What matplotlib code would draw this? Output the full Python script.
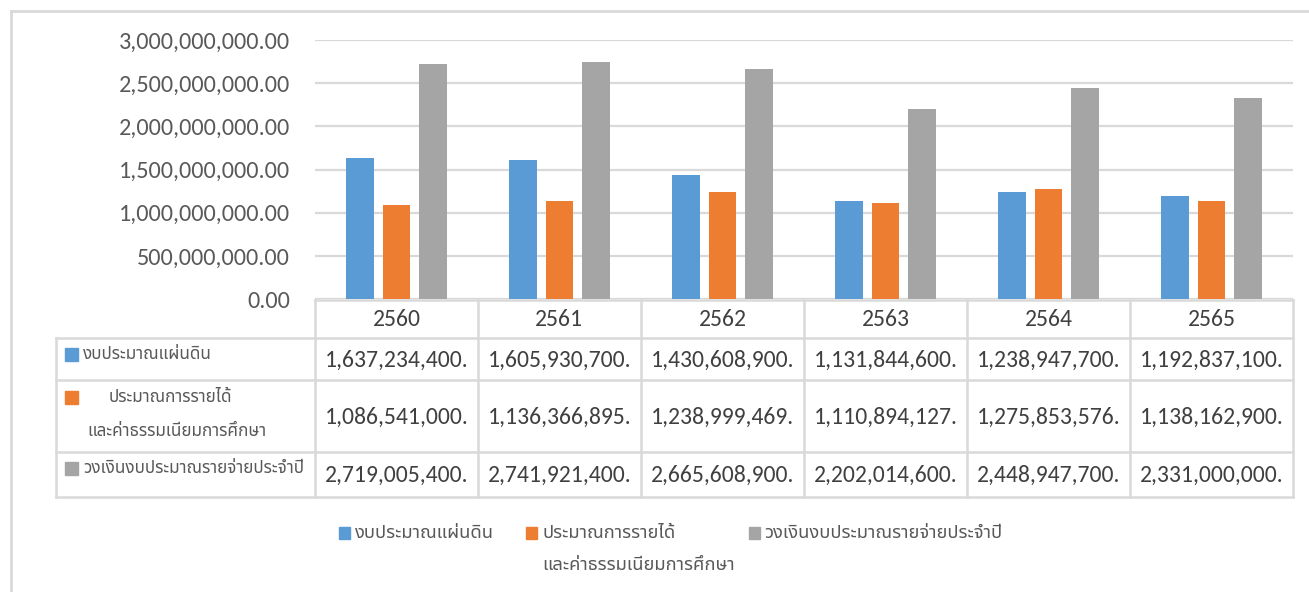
import matplotlib
matplotlib.use('Agg')
import matplotlib.pyplot as plt
from matplotlib.patches import Rectangle
from matplotlib.lines import Line2D
from matplotlib.ticker import FuncFormatter
import numpy as np

# data
years = ['2560', '2561', '2562', '2563', '2564', '2565']
land_budget = [1637234400, 1605930700, 1430608900, 1131844600, 1238947700, 1192837100]
income_budget = [1086541000, 1136366895, 1238999469, 1110894127, 1275853576, 1138162900]
total_budget = [2719005400, 2741921400, 2665608900, 2202014600, 2448947700, 2331000000]
series_names = ['งบประมาณแผ่นดิน',
                'ประมาณการรายได้\nและค่าธรรมเนียมการศึกษา',
                'วงเงินงบประมาณรายจ่ายประจำปี']
colors = ['#5B9BD5', '#ED7D31', '#A5A5A5']

num_font = ['Carlito', 'Calibri', 'Open Sans', 'DejaVu Sans']
thai_font = ['Noto Sans Thai', 'Loma', 'DejaVu Sans']
grid_c = '#D9D9D9'
text_c = '#595959'

W, H = 1309, 592
fig = plt.figure(figsize=(W / 100, H / 100), dpi=100)


def fx(px):
    return px / W


def fy(py):
    return 1 - py / H


# outer chart border
fig.add_artist(Line2D([fx(11), fx(11)], [fy(11), 0], color=grid_c, lw=2))
fig.add_artist(Line2D([fx(11), 1], [fy(11), fy(11)], color=grid_c, lw=2))

# bar chart area
L, R, T, B = 315, 1293, 40, 299
ax = fig.add_axes([fx(L), fy(B), fx(R - L), (B - T) / H])
x = np.arange(len(years))
bw = 0.17
off = 0.225
for i, vals in enumerate([land_budget, income_budget, total_budget]):
    ax.bar(x + (i - 1) * off, vals, width=bw, color=colors[i], zorder=3)
ax.set_xlim(-0.5, len(years) - 0.5)
ax.set_ylim(0, 3e9)
ax.set_yticks(np.arange(0, 3.01e9, 5e8))
ax.yaxis.set_major_formatter(FuncFormatter(lambda v, p: f'{v:,.2f}'))
ax.grid(axis='y', color=grid_c, lw=1.6, zorder=0)
ax.set_xticks([])
for s in ax.spines.values():
    s.set_visible(False)
ax.tick_params(axis='y', length=0, pad=18, labelcolor=text_c, labelsize=17.5)
for t in ax.get_yticklabels():
    t.set_family(num_font)

# data table below the chart
TL, TB = 56, 497
rows_y = [300, 338, 380, 452, 497]
label_w = (L - TL) / ((R - L) / len(years))
tax = fig.add_axes([fx(TL), fy(TB), fx(R - TL), (TB - rows_y[0]) / H])
tax.set_xlim(-0.5 - label_w, len(years) - 0.5)
tax.set_ylim(TB, rows_y[0])
tax.axis('off')
lw_t = 1.8
# horizontal lines
tax.plot([-0.5, len(years) - 0.5], [rows_y[0], rows_y[0]], color=grid_c, lw=lw_t, clip_on=False)
for yy in rows_y[1:]:
    tax.plot([-0.5 - label_w, len(years) - 0.5], [yy, yy], color=grid_c, lw=lw_t, clip_on=False)
# vertical lines
tax.plot([-0.5 - label_w] * 2, [rows_y[1], rows_y[-1]], color=grid_c, lw=lw_t, clip_on=False)
for k in range(len(years) + 1):
    tax.plot([k - 0.5] * 2, [rows_y[0], rows_y[-1]], color=grid_c, lw=lw_t, clip_on=False)

tbl_c = '#404040'
for k, yr in enumerate(years):
    tax.text(k, (rows_y[0] + rows_y[1]) / 2 + 1, yr, ha='center', va='center',
             fontsize=17, color=tbl_c, family=num_font)
for r, vals in enumerate([land_budget, income_budget, total_budget]):
    yc = (rows_y[r + 1] + rows_y[r + 2]) / 2 + 1
    for k, v in enumerate(vals):
        tax.text(k, yc, f'{v:,.0f}.', ha='center', va='center',
                 fontsize=17, color=tbl_c, family=num_font)

# row labels with colour keys
cell_w = (R - L) / len(years)
kx = -0.5 - label_w + 9 / cell_w
kw = 13 / cell_w
tx = kx + kw + 5 / cell_w
lbl_fs = 12.3
# row 1
tax.add_patch(Rectangle((kx, 348), kw, 13, color=colors[0], clip_on=False))
tax.text(tx, 355, series_names[0], ha='left', va='center', fontsize=lbl_fs,
         color=text_c, family=thai_font)
# row 2 (two lines)
tax.add_patch(Rectangle((kx, 391), kw, 13, color=colors[1], clip_on=False))
tax.text(tx + 26 / cell_w, 398, series_names[1].split('\n')[0], ha='left', va='center',
         fontsize=lbl_fs, color=text_c, family=thai_font)
tax.text(kx + 22 / cell_w, 432, series_names[1].split('\n')[1], ha='left', va='center',
         fontsize=lbl_fs, color=text_c, family=thai_font)
# row 3
tax.add_patch(Rectangle((kx, 462), kw, 13, color=colors[2], clip_on=False))
tax.text(tx, 469, series_names[2], ha='left', va='center', fontsize=lbl_fs,
         color=text_c, family=thai_font)

# legend at the bottom
leg_fs = 13.2
leg_items = [(339, 355), (526, 542), (749, 764)]
for i, (sx, lx) in enumerate(leg_items):
    fig.add_artist(Rectangle((fx(sx), fy(539)), fx(11), 12 / H, color=colors[i]))
    first = series_names[i].split('\n')[0]
    fig.text(fx(lx), fy(533), first, ha='left', va='center', fontsize=leg_fs,
             color=text_c, family=thai_font)
fig.text(fx(542), fy(565), series_names[1].split('\n')[1], ha='left', va='center',
         fontsize=leg_fs, color=text_c, family=thai_font)

fig.savefig('out.png', dpi=100)
